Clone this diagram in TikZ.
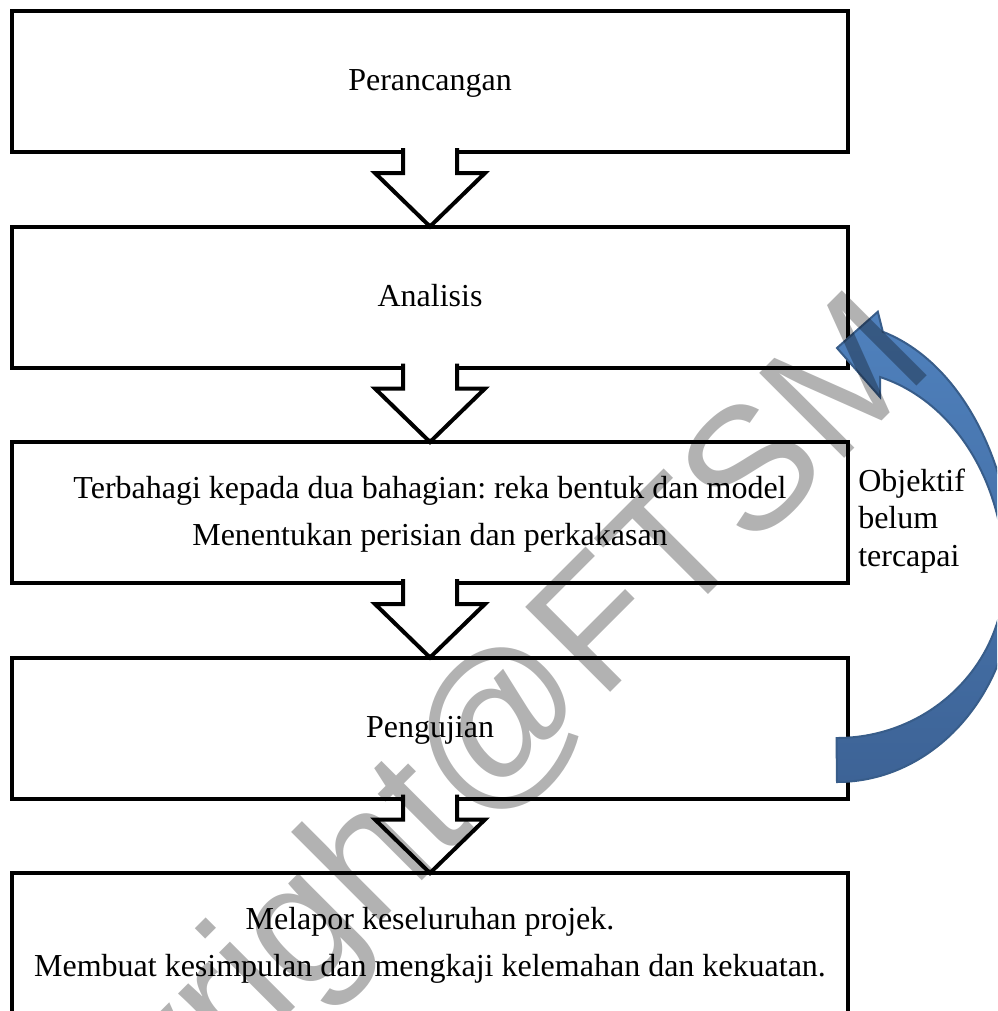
\documentclass[tikz,border=0pt]{standalone}
\usepackage{fontspec}
\setmainfont{Liberation Serif}
\newfontfamily\wmfont{Liberation Sans}
\usetikzlibrary{calc}
\frenchspacing

\definecolor{loopfill}{RGB}{79,129,189}
\definecolor{loopdark}{RGB}{61,99,150}
\definecolor{loopline}{RGB}{56,93,138}

\tikzset{
  stage/.style={draw, line width=3pt, fill=white, minimum width=627pt, minimum height=105.75pt,
    inner sep=0pt, outer sep=0pt, align=center, font=\fontsize{24}{35.25}\selectfont},
  downarrow/.style={draw, line width=3pt, fill=white},
  feedback/.style={draw=loopline, line width=1.5pt, top color=loopfill, bottom color=loopdark},
  note/.style={align=left, inner sep=0pt, font=\fontsize{24}{28.1}\selectfont},
  watermark/.style={rotate=45, text=black, text opacity=0.3, inner sep=0pt,
    font=\wmfont\fontsize{131}{131}\selectfont}
}

\begin{document}
\begin{tikzpicture}[x=0.75pt,y=0.75pt,yscale=-1]
\useasboundingbox (0,0) rectangle (997,1011);
\clip (0,0) rectangle (997,1011);

%Shape: Rectangle [stages]
\node[stage] (b1) at (430,81.5) {\strut Perancangan};
\node[stage] (b2) at (430,297) {\strut Analisis};
\node[stage] (b3) at (430,512.5) {\strut Terbahagi kepada dua bahagian: reka bentuk dan model\\Menentukan perisian dan perkakasan\strut};
\node[stage] (b4) at (430,728) {\strut Pengujian};
\node[stage] (b5) at (430,943.5) {\strut Melapor keseluruhan projek.\\Membuat kesimpulan dan mengkaji kelemahan dan kekuatan.\strut};

%Shape: Down Arrow
\filldraw[downarrow] ($(b1.south)+(-27,-4)$) -- ++(0,25) -- ++(-28,0) -- (b2.north) -- ($(b1.south)+(55,21)$) -- ++(-28,0) -- ++(0,-25);
%Shape: Down Arrow
\filldraw[downarrow] ($(b2.south)+(-27,-4)$) -- ++(0,25) -- ++(-28,0) -- (b3.north) -- ($(b2.south)+(55,21)$) -- ++(-28,0) -- ++(0,-25);
%Shape: Down Arrow
\filldraw[downarrow] ($(b3.south)+(-27,-4)$) -- ++(0,25) -- ++(-28,0) -- (b4.north) -- ($(b3.south)+(55,21)$) -- ++(-28,0) -- ++(0,-25);
%Shape: Down Arrow
\filldraw[downarrow] ($(b4.south)+(-27,-4)$) -- ++(0,25) -- ++(-28,0) -- (b5.north) -- ($(b4.south)+(55,21)$) -- ++(-28,0) -- ++(0,-25);

%Shape: Curved Left Arrow
\coordinate (fbtail) at ($(b4.east)+(-11,54)$);
\coordinate (fbtip) at ($(b2.east)+(-11,51)$);
\draw[feedback] (fbtail) arc[start angle=90, end angle=0, x radius=177, y radius=202]
  arc[start angle=0, end angle=-75, x radius=177, y radius=257] -- ++(-5,-20) -- (fbtip)
  -- ($(fbtip)+(43,49)$) -- ++(0,-20)
  arc[start angle=-75, end angle=0, x radius=168, y radius=205]
  arc[start angle=0, end angle=90, x radius=168, y radius=163] -- cycle;

% Text Node
\node[note, anchor=base west] (fblabel) at ($(b3.east)+(10,53.5)$) {Objektif\\belum\\tercapai};

% Text Node
\node[watermark] (wm) at (410,829) {Copyright@FTSM};

\end{tikzpicture}
\end{document}
